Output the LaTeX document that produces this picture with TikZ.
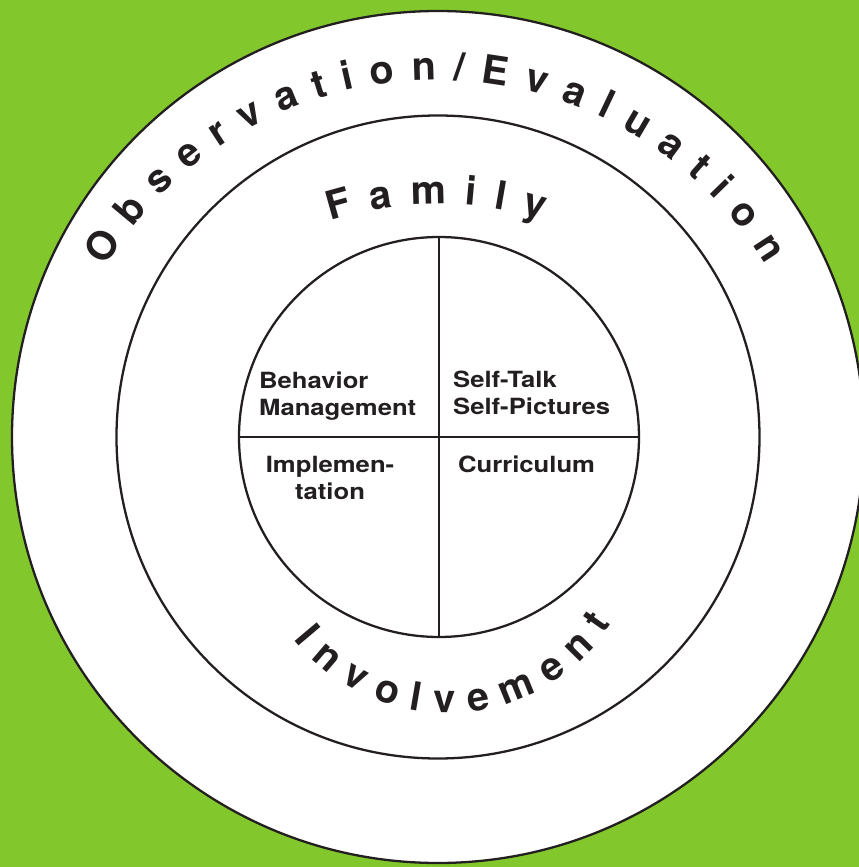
\documentclass[tikz,border=0pt]{standalone}
\usepackage{fontspec}
\setmainfont{TeX Gyre Heros}
\newfontfamily\quadfont[FakeStretch=1.15]{TeX Gyre Heros}
\usepackage{xcolor}
\definecolor{mygreen}{RGB}{130,200,44}
\definecolor{myink}{RGB}{35,31,32}
\usetikzlibrary{calc,positioning,decorations.text}

\begin{document}
\begin{tikzpicture}[
  line width=1.3pt,
  ring/.style={
    draw=myink,
    fill=white,
    circle,
    inner sep=0pt,
    minimum size=#1
    },
  arctext/.style={
    decorate,
    decoration={
      text along path,
      text align=fit to path,
      text color=myink,
      text={|\bfseries\fontsize{22.5}{28}\selectfont|#1}
      }
    },
  quadlabel/.style={
    inner sep=0pt,
    text=myink,
    font=\quadfont\bfseries\fontsize{12.7}{15.4}\selectfont
    }
]

\clip (-8.76,-8.60) rectangle (8.42,8.74);
\fill[mygreen] (-8.76,-8.60) rectangle (8.42,8.74);

% the three rings
\node[ring=17.04cm] (outer) at (0,0) {};
\node[ring=12.86cm] (middle) at (0,0) {};
\node[ring=8.0cm] (inner) at (0.02,0) {};

\draw[myink] (inner.north) -- (inner.south);
\draw[myink] (inner.west) -- (inner.east);

% curved titles
\coordinate (obsc) at (-0.04,-0.58);
\coordinate (famc) at (0,-2.46);
\coordinate (invc) at (0.18,-1.60);

\path[arctext={Observation/Evaluation}]
  ($(obsc)+(148.9:7.72)$) arc[start angle=148.9, end angle=31.4, radius=7.72];
\path[arctext={Family}]
  ($(famc)+(107.5:7.12)$) arc[start angle=107.5, end angle=72.9, radius=7.12];
\path[arctext={Involvement}]
  ($(invc)+(218.6:3.92)$) arc[start angle=218.6, end angle=326.9, radius=3.92];

% quadrant labels
\node[quadlabel, anchor=north west, align=left] (behavior) at (-3.60,1.32) {Behavior\\Management};
\node[quadlabel, anchor=north west, align=left] (selftalk) at (0.28,1.34) {Self-Talk\\Self-Pictures};
\node[quadlabel, anchor=north, align=center] (implement) at (-2.16,-0.36) {Implemen-\\tation};
\node[quadlabel, anchor=north west] (curriculum) at (0.38,-0.36) {Curriculum};
\end{tikzpicture}
\end{document}
